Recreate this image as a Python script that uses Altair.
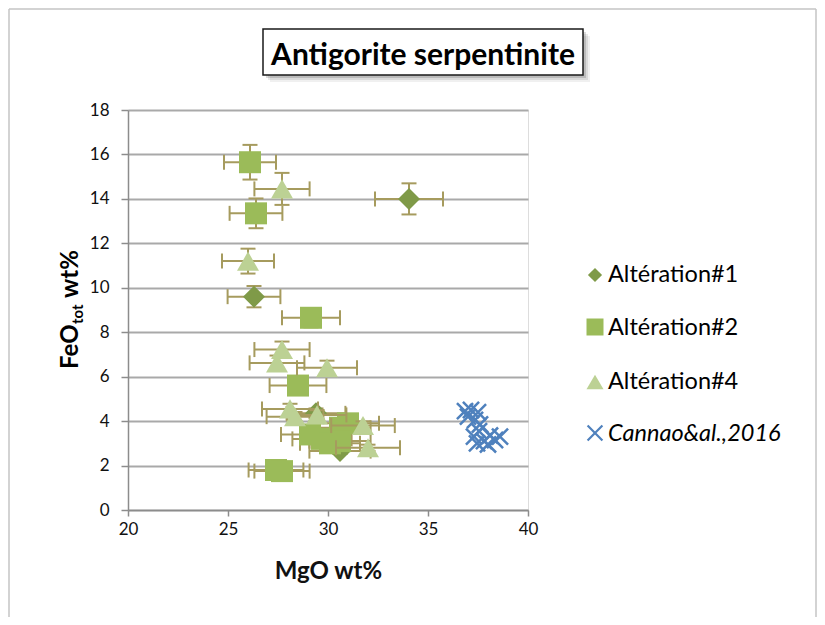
import altair as alt
import pandas as pd

# ---------------- data ----------------
TITLE = "Antigorite serpentinite"
X_TITLE = "MgO wt%"
Y_TITLE_MAIN = "FeO"
Y_TITLE_SUB = "tot"
Y_TITLE_UNIT = "wt%"

SERIES = ["Altération#1", "Altération#2", "Altération#4", "Cannao&al.,2016"]

X_TICKS = [20, 25, 30, 35, 40]
Y_TICKS = [0, 2, 4, 6, 8, 10, 12, 14, 16, 18]

A1_MGO = [34.05, 26.3, 29.4, 30.6]
A1_FEO = [14.0, 9.6, 4.35, 2.65]
A1_MGO_ERR = [1.7, 1.32, 1.47, 1.53]
A1_FEO_ERR = [0.7, 0.48, 0.22, 0.13]

A2_MGO = [26.1, 26.4, 29.15, 28.5, 27.4, 27.7, 29.1, 29.7, 30.1, 30.6, 31.0, 30.6]
A2_FEO = [15.65, 13.35, 8.65, 5.6, 1.8, 1.75, 3.4, 3.2, 3.0, 3.7, 3.9, 3.1]
A2_MGO_ERR = [1.3, 1.32, 1.45, 1.42, 1.37, 1.38, 1.45, 1.48, 1.5, 1.53, 1.55, 1.53]
A2_FEO_ERR = [0.78, 0.67, 0.43, 0.28, 0.09, 0.09, 0.17, 0.16, 0.15, 0.19, 0.2, 0.16]

A4_MGO = [27.7, 26.0, 27.7, 27.45, 29.95, 28.1, 28.35, 29.45, 31.75, 32.0]
A4_FEO = [14.45, 11.2, 7.22, 6.62, 6.4, 4.55, 4.2, 4.28, 3.8, 2.8]
A4_MGO_ERR = [1.38, 1.3, 1.38, 1.37, 1.5, 1.4, 1.42, 1.47, 1.59, 1.6]
A4_FEO_ERR = [0.72, 0.56, 0.36, 0.33, 0.32, 0.23, 0.21, 0.21, 0.19, 0.14]

CAN_MGO = [36.85, 37.15, 37.5, 37.0, 37.35, 37.6, 37.3, 37.55, 37.8, 37.45, 38.1, 38.35, 38.6, 38.0]
CAN_FEO = [4.45, 4.5, 4.4, 4.2, 4.05, 3.85, 3.3, 3.55, 3.1, 3.0, 3.35, 3.15, 3.3, 2.95]

# ---------------- styles ----------------
FONT = "Lato"
ERR_COLOR = "#A69B5E"
COLORS = ["#7F9A48", "#9BBB59", "#BCD194", "#4F81BD"]
SHAPES = ["diamond", "square", "triangle-up", "M-1,-1L1,1M-1,1L1,-1"]
GRID = "#A9A9A9"
AXIS_LINE = "#8C8C8C"

W, H = 400, 400

def make_df(name, mgo, feo, mgo_err, feo_err):
    return pd.DataFrame({
        "series": name,
        "mgo": mgo,
        "feo": feo,
        "xlo": [m - e for m, e in zip(mgo, mgo_err)],
        "xhi": [m + e for m, e in zip(mgo, mgo_err)],
        "ylo": [f - e for f, e in zip(feo, feo_err)],
        "yhi": [f + e for f, e in zip(feo, feo_err)],
    })

df1 = make_df(SERIES[0], A1_MGO, A1_FEO, A1_MGO_ERR, A1_FEO_ERR)
df2 = make_df(SERIES[1], A2_MGO, A2_FEO, A2_MGO_ERR, A2_FEO_ERR)
df4 = make_df(SERIES[2], A4_MGO, A4_FEO, A4_MGO_ERR, A4_FEO_ERR)
dfc = pd.DataFrame({"series": SERIES[3], "mgo": CAN_MGO, "feo": CAN_FEO})

XS = alt.Scale(domain=[20, 40], nice=False, zero=False)
YS = alt.Scale(domain=[0, 18], nice=False, zero=True)
XAXIS = alt.Axis(values=X_TICKS, title=X_TITLE, grid=False, domainColor=AXIS_LINE, domainWidth=1.5,
                 tickColor=AXIS_LINE, tickWidth=1.5, tickSize=6, labelFont=FONT, labelFontSize=17,
                 labelColor="#111111", labelPadding=5, titleFont=FONT, titleFontSize=24,
                 titleFontWeight="bold", titleColor="#111111", titlePadding=22, labelFlush=False)
YAXIS = alt.Axis(values=Y_TICKS, title=None, grid=True, gridColor=GRID, gridWidth=2,
                 domainColor=AXIS_LINE, domainWidth=1.5, tickColor=AXIS_LINE, tickWidth=1.5,
                 tickSize=7, labelFont=FONT, labelFontSize=17, labelColor="#111111",
                 labelPadding=12, labelFlush=False)

def X(field):
    return alt.X(field, type="quantitative", scale=XS, axis=XAXIS)

def Y(field):
    return alt.Y(field, type="quantitative", scale=YS, axis=YAXIS)

one = pd.DataFrame({"k": [0]})
layers = []

# outer chart frame (top, left, right)
frame = alt.Chart(one).mark_rule(color="#C4C4C4", strokeWidth=1.5)
layers.append(frame.encode(x=alt.value(-119), x2=alt.value(688), y=alt.value(-101)))
layers.append(frame.encode(x=alt.value(-119), y=alt.value(-101), y2=alt.value(520)))
layers.append(frame.encode(x=alt.value(688), y=alt.value(-101), y2=alt.value(520)))

# title box with soft shadow
for off, op in [(7, 0.06), (5, 0.09), (3, 0.14)]:
    layers.append(alt.Chart(one).mark_rect(color="#000000", opacity=op).encode(
        x=alt.value(135 + off), x2=alt.value(455 + off), y=alt.value(-81 + off), y2=alt.value(-35 + off)))
layers.append(alt.Chart(one).mark_rect(fill="#FFFFFF", stroke="#1A1A1A", strokeWidth=1.5).encode(
    x=alt.value(135), x2=alt.value(455), y=alt.value(-81), y2=alt.value(-35)))
layers.append(alt.Chart(pd.DataFrame({"t": [TITLE]})).mark_text(
    font=FONT, fontSize=30, fontWeight="bold", color="#000000", align="center", baseline="alphabetic"
).encode(x=alt.value(295), y=alt.value(-45), text="t:N"))

# y axis title with subscript
ytxt = [(Y_TITLE_MAIN, 24, -50, 259), (Y_TITLE_SUB, 15, -45, 214), (Y_TITLE_UNIT, 24, -50, 188)]
for t, fs, xx, yy in ytxt:
    layers.append(alt.Chart(pd.DataFrame({"t": [t]})).mark_text(
        font=FONT, fontSize=fs, fontWeight="bold", color="#000000", align="left",
        baseline="alphabetic", angle=270
    ).encode(x=alt.value(xx), y=alt.value(yy), text="t:N"))

# series with error bars
for d, color, shape in [(df1, COLORS[0], SHAPES[0]), (df2, COLORS[1], SHAPES[1]), (df4, COLORS[2], SHAPES[2])]:
    b = alt.Chart(d)
    layers.append(b.mark_rule(color=ERR_COLOR, strokeWidth=2).encode(x=X("xlo"), x2="xhi", y=Y("feo")))
    layers.append(b.mark_rule(color=ERR_COLOR, strokeWidth=2, yOffset=-7.5, y2Offset=7.5).encode(
        x=X("xlo"), y=Y("feo"), y2="feo"))
    layers.append(b.mark_rule(color=ERR_COLOR, strokeWidth=2, yOffset=-7.5, y2Offset=7.5).encode(
        x=X("xhi"), y=Y("feo"), y2="feo"))
    layers.append(b.mark_rule(color=ERR_COLOR, strokeWidth=2).encode(x=X("mgo"), y=Y("ylo"), y2="yhi"))
    layers.append(b.mark_rule(color=ERR_COLOR, strokeWidth=2, xOffset=-7.5, x2Offset=7.5).encode(
        x=X("mgo"), x2="mgo", y=Y("ylo")))
    layers.append(b.mark_rule(color=ERR_COLOR, strokeWidth=2, xOffset=-7.5, x2Offset=7.5).encode(
        x=X("mgo"), x2="mgo", y=Y("yhi")))
    layers.append(b.mark_point(shape=shape, filled=True, size=484, color=color, opacity=1).encode(
        x=X("mgo"), y=Y("feo")))

layers.append(alt.Chart(dfc).mark_point(shape=SHAPES[3], filled=False, size=260, color=COLORS[3],
                                        strokeWidth=2.5, opacity=1).encode(x=X("mgo"), y=Y("feo")))

# legend
LEG_SYM_Y = [165, 217, 272, 323]
LEG_TXT_Y = [172, 225, 279, 331]
LEG_SIZE = [200, 289, 289, 220]
for i, name in enumerate(SERIES):
    src = pd.DataFrame({"label": [name]})
    if i < 3:
        sym = alt.Chart(src).mark_point(shape=SHAPES[i], filled=True, size=LEG_SIZE[i], color=COLORS[i], opacity=1)
    else:
        sym = alt.Chart(src).mark_point(shape=SHAPES[i], filled=False, size=LEG_SIZE[i], color=COLORS[i],
                                        strokeWidth=2.2, opacity=1)
    layers.append(sym.encode(x=alt.value(467), y=alt.value(LEG_SYM_Y[i])))
    layers.append(alt.Chart(src).mark_text(
        font=FONT, fontSize=23.5, color="#000000", align="left", baseline="alphabetic",
        fontStyle="italic" if i == 3 else "normal"
    ).encode(x=alt.value(480), y=alt.value(LEG_TXT_Y[i]), text="label:N"))

chart = alt.layer(*layers).properties(
    width=W, height=H,
    autosize=alt.AutoSizeParams(type="none"),
    padding={"left": 120, "top": 102, "right": 289, "bottom": 107},
).configure_view(strokeWidth=0).configure(background="#FFFFFF")

chart.save("out.html", embed_options={"renderer": "svg", "actions": False})
